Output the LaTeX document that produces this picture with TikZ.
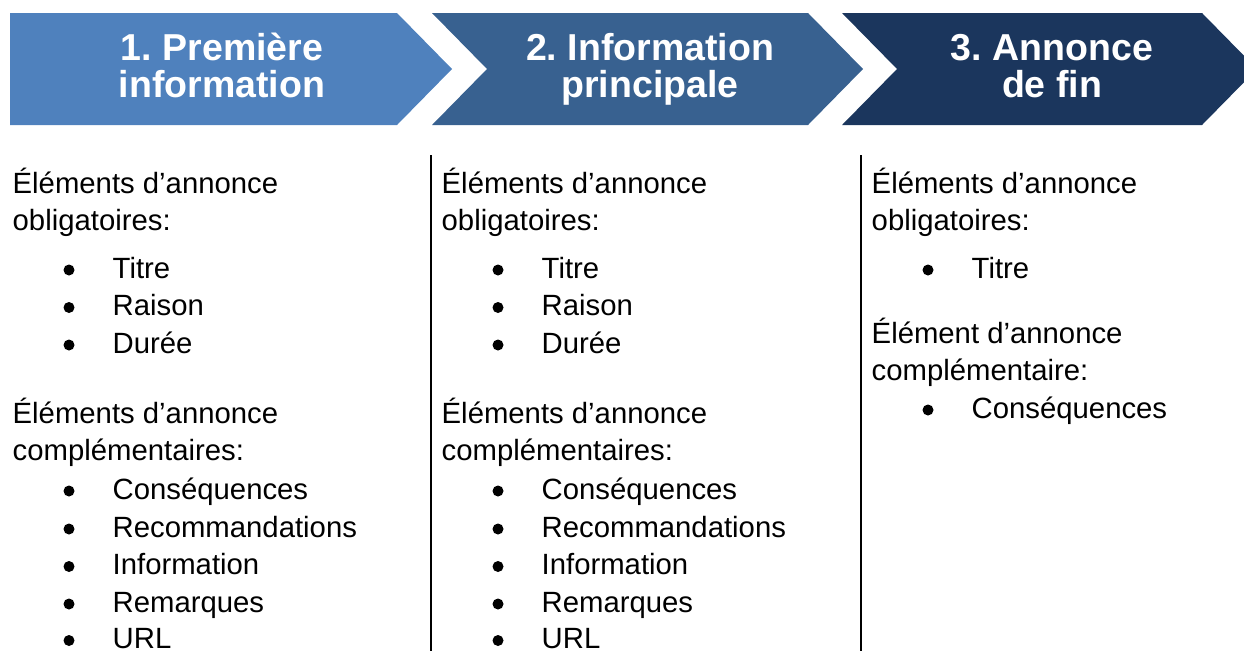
\documentclass[tikz,border=0pt]{standalone}
\usepackage{fontspec}
\setmainfont{Liberation Sans}
\frenchspacing
\definecolor{cA}{HTML}{4F81BD}
\definecolor{cB}{HTML}{386190}
\definecolor{cC}{HTML}{1B365D}
\newcommand\bodyline[4]{\node[body] (#1) at (#2,#3) {#4};}
\newcommand\bulitem[4]{%
  \node[bul] (#1b) at ({#2+56.5},{#3-8}) {};
  \node[body] (#1) at ({#2+100},#3) {#4};}
\begin{document}
\begin{tikzpicture}[x=1pt,y=-1pt,
  body/.style={anchor=base west, inner sep=0pt, font=\fontsize{29.3}{35}\selectfont},
  ttl/.style={anchor=base, text=white, inner sep=0pt, font=\bfseries\fontsize{37.5}{37}\selectfont},
  bul/.style={circle, fill=black, inner sep=0pt, minimum size=11pt},
  sep/.style={draw=black, line width=1.5pt}]
\useasboundingbox (0,0) rectangle (1244,651);
% chevrons
\fill[cA] (10,13) -- (397,13) -- (452,69) -- (397,125) -- (10,125) -- cycle;
\fill[cB] (432,13) -- (808,13) -- (863,69) -- (808,125) -- (432,125) -- (487,69) -- cycle;
\fill[cC] (842,13) -- (1202,13) -- (1257,69) -- (1202,125) -- (842,125) -- (897,69) -- cycle;
% titles
\node[ttl] (t1a) at (222,60) {1. Première};
\node[ttl] (t1b) at (222,97) {information};
\node[ttl] (t2a) at (650,60) {2. Information};
\node[ttl] (t2b) at (650,97) {principale};
\node[ttl] (t3a) at (1052,60) {3. Annonce};
\node[ttl] (t3b) at (1052,97) {de fin};
% separators
\coordinate (s1a) at (431,155); \coordinate (s1b) at (431,651);
\coordinate (s2a) at (861,155); \coordinate (s2b) at (861,651);
\draw[sep] (s1a) -- (s1b);
\draw[sep] (s2a) -- (s2b);
% column 1
\bodyline{a1}{12.5}{193}{Éléments d’annonce}
\bodyline{a2}{12.5}{230.5}{obligatoires:}
\bulitem{a3}{12.5}{278}{Titre}
\bulitem{a4}{12.5}{315.5}{Raison}
\bulitem{a5}{12.5}{353}{Durée}
\bodyline{a6}{12.5}{423}{Éléments d’annonce}
\bodyline{a7}{12.5}{460.5}{complémentaires:}
\bulitem{a8}{12.5}{499}{Conséquences}
\bulitem{a9}{12.5}{537}{Recommandations}
\bulitem{a10}{12.5}{574.5}{Information}
\bulitem{a11}{12.5}{612}{Remarques}
\bulitem{a12}{12.5}{648.5}{URL}
% column 2
\bodyline{b1}{441.5}{193}{Éléments d’annonce}
\bodyline{b2}{441.5}{230.5}{obligatoires:}
\bulitem{b3}{441.5}{278}{Titre}
\bulitem{b4}{441.5}{315.5}{Raison}
\bulitem{b5}{441.5}{353}{Durée}
\bodyline{b6}{441.5}{423}{Éléments d’annonce}
\bodyline{b7}{441.5}{460.5}{complémentaires:}
\bulitem{b8}{441.5}{499}{Conséquences}
\bulitem{b9}{441.5}{537}{Recommandations}
\bulitem{b10}{441.5}{574.5}{Information}
\bulitem{b11}{441.5}{612}{Remarques}
\bulitem{b12}{441.5}{648.5}{URL}
% column 3
\bodyline{c1}{871.5}{193}{Éléments d’annonce}
\bodyline{c2}{871.5}{230.5}{obligatoires:}
\bulitem{c3}{871.5}{278}{Titre}
\bodyline{c4}{871.5}{343}{Élément d’annonce}
\bodyline{c5}{871.5}{380.5}{complémentaire:}
\bulitem{c6}{871.5}{418}{Conséquences}
\end{tikzpicture}
\end{document}
